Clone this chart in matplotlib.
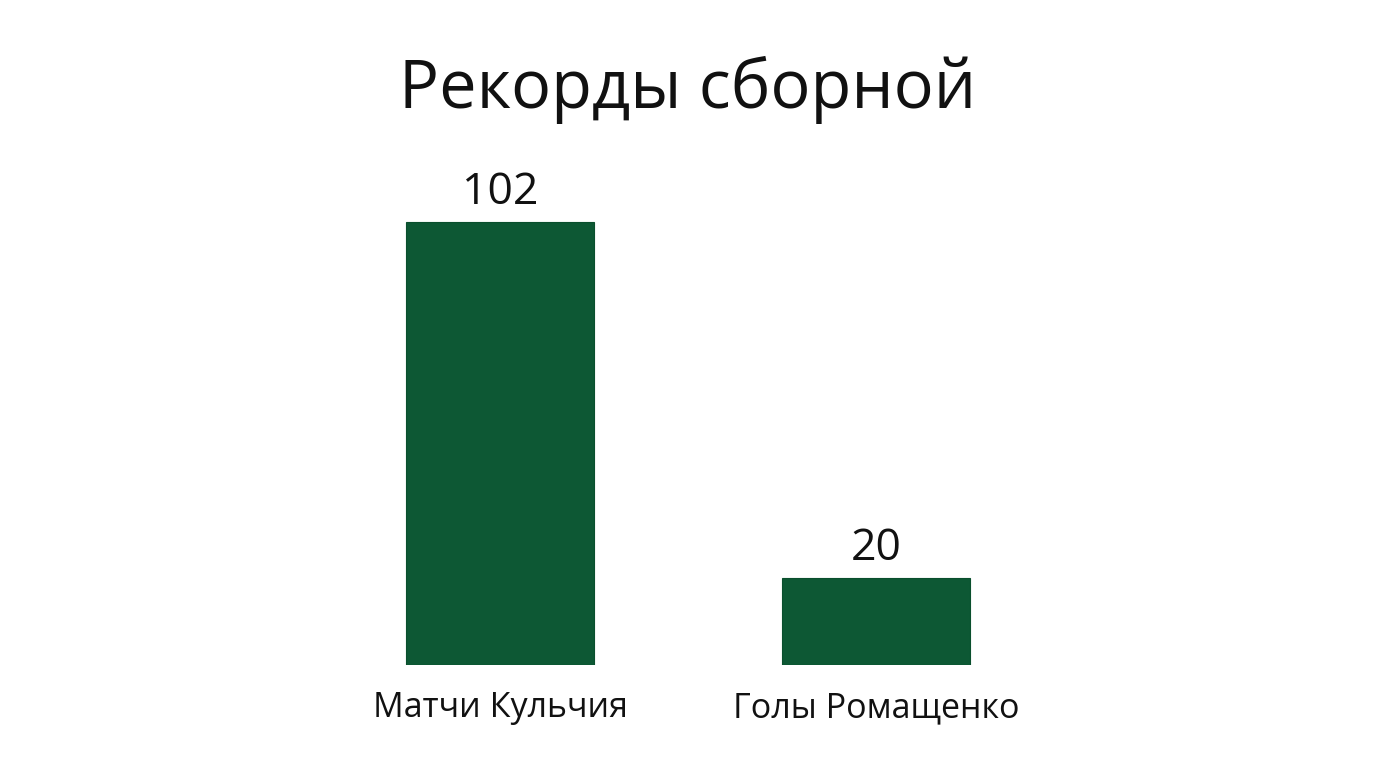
import matplotlib.pyplot as plt

categories = ["Матчи Кульчия", "Голы Ромащенко"]
values = [102, 20]
title = "Рекорды сборной"

BAR_COLOR = "#0d5834"
plt.rcParams["font.family"] = ["Open Sans", "DejaVu Sans"]

fig = plt.figure(figsize=(13.76, 7.68), dpi=100)
fig.patch.set_facecolor("white")
ax = fig.add_axes([274.4 / 1376, 103 / 768, 827 / 1376, 521 / 768])

x = range(len(categories))
bars = ax.bar(x, values, width=0.5, color=BAR_COLOR, edgecolor="#0a4f2d", linewidth=0.8)

for b, v in zip(bars, values):
    ax.annotate(str(v), (b.get_x() + b.get_width() / 2, v),
                xytext=(0, 13), textcoords="offset points",
                ha="center", va="baseline", fontsize=32, color="#111111")

ax.set_xlim(-0.6, 1.6)
ax.set_ylim(0, 120)
ax.set_xticks(list(x))
ax.set_xticklabels(categories, fontsize=24.5, color="#111111")
ax.tick_params(axis="x", length=0, pad=19)
ax.set_yticks([])
for s in ax.spines.values():
    s.set_visible(False)

fig.text(0.5, (768 - 108) / 768, title, ha="center", va="baseline",
         fontsize=48, color="#111111")

fig.savefig("out.png", dpi=100, facecolor="white")
